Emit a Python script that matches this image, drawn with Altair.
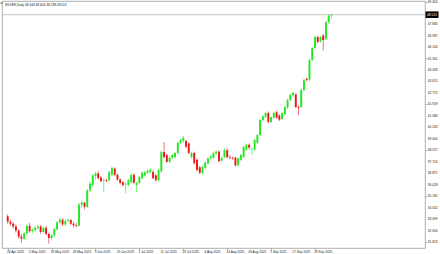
import altair as alt
import pandas as pd

# ---- data (daily SILVER candles, 24 Apr 2025 .. early Oct 2025) ----
open_ = [33.70, 33.30, 33.15, 32.95, 32.65, 32.20, 32.05, 32.45, 33.00, 32.60,
         32.70, 32.85, 32.95, 32.55, 32.85, 32.40, 32.10, 32.30, 32.75, 33.25,
         33.45, 33.10, 33.35, 33.42, 33.15, 33.05, 33.00, 34.55, 34.70, 34.40,
         35.60, 36.00, 36.65, 36.85, 36.55, 36.30, 36.35, 36.35, 36.75, 37.20,
         36.75, 36.40, 36.20, 36.05, 36.00, 36.20, 36.75, 36.00, 36.15, 36.50,
         36.70, 36.90, 36.95, 36.95, 36.70, 36.35, 37.00, 38.42, 38.20, 37.70,
         38.00, 38.05, 38.35, 39.10, 39.25, 39.23, 39.05, 38.05, 38.35, 37.85,
         37.30, 36.88, 37.25, 37.60, 37.95, 38.00, 38.30, 38.45, 37.80, 38.05,
         38.55, 38.05, 38.00, 38.00, 37.45, 37.85, 38.05, 38.60, 38.95, 38.62,
         38.60, 39.10, 39.67, 40.77, 41.00, 41.29, 40.63, 40.95, 41.35, 41.10,
         40.85, 41.20, 41.70, 42.24, 42.60, 42.65, 41.75, 41.73, 42.98, 43.80,
         43.75, 45.18, 46.07, 46.87, 46.55, 46.98, 46.75, 47.97, 48.444]
high = [33.85, 33.45, 33.25, 33.10, 32.75, 32.40, 32.55, 33.15, 33.20, 32.85,
        33.00, 33.10, 33.05, 32.95, 33.00, 32.50, 32.40, 32.85, 33.35, 33.60,
        33.55, 33.50, 33.55, 33.50, 33.30, 33.20, 34.70, 34.85, 34.75, 35.75,
        36.25, 36.80, 36.95, 37.00, 36.65, 36.50, 36.45, 37.05, 37.35, 37.30,
        36.85, 36.50, 36.30, 36.20, 36.45, 36.85, 36.85, 36.25, 36.70, 37.00,
        37.05, 37.15, 37.20, 37.10, 36.80, 37.20, 38.55, 39.15, 38.30, 38.10,
        38.30, 38.45, 39.20, 39.40, 39.60, 39.35, 39.15, 38.45, 38.45, 37.95,
        37.40, 37.45, 37.75, 38.05, 38.20, 38.45, 38.55, 38.55, 38.10, 38.70,
        38.70, 38.20, 38.10, 38.10, 38.05, 38.30, 38.90, 39.05, 39.05, 38.75,
        39.40, 39.75, 40.85, 41.10, 41.35, 41.40, 40.75, 41.40, 41.45, 41.20,
        41.35, 41.80, 42.35, 42.70, 42.85, 42.75, 41.85, 43.10, 43.80, 43.90,
        45.30, 46.15, 46.95, 46.95, 46.95, 47.10, 48.05, 48.55, 48.604]
low = [33.15, 33.00, 32.80, 32.50, 32.05, 31.75, 31.95, 32.30, 32.50, 32.45,
       32.55, 32.70, 32.40, 32.45, 32.30, 31.70, 31.95, 32.20, 32.65, 33.15,
       33.00, 33.00, 33.25, 33.05, 32.90, 32.90, 32.95, 34.30, 34.20, 34.30,
       35.45, 35.85, 36.40, 36.40, 36.20, 35.50, 36.20, 36.25, 36.65, 36.65,
       36.30, 36.05, 35.90, 35.40, 35.90, 36.10, 36.05, 35.45, 36.05, 36.40,
       36.60, 36.80, 36.85, 36.40, 36.25, 36.25, 36.90, 37.95, 37.65, 37.60,
       37.90, 37.95, 38.25, 39.00, 39.10, 38.70, 38.25, 37.95, 37.50, 37.00,
       36.80, 36.75, 37.15, 37.50, 37.85, 37.90, 38.20, 37.70, 37.70, 37.95,
       37.95, 37.90, 37.85, 37.35, 37.35, 37.75, 37.95, 38.50, 38.60, 38.20,
       38.50, 39.00, 39.60, 40.65, 40.90, 40.55, 40.55, 40.85, 40.85, 40.70,
       40.75, 41.10, 41.60, 42.15, 42.50, 41.65, 41.14, 41.65, 42.90, 43.60,
       43.65, 45.10, 46.00, 46.40, 46.45, 45.90, 46.65, 47.85, 48.238]
close = [33.30, 33.15, 32.95, 32.65, 32.20, 32.05, 32.45, 33.00, 32.60, 32.70,
         32.85, 32.95, 32.55, 32.85, 32.40, 32.10, 32.30, 32.75, 33.25, 33.45,
         33.10, 33.35, 33.42, 33.15, 33.05, 33.00, 34.55, 34.70, 34.40, 35.60,
         36.10, 36.70, 36.85, 36.50, 36.30, 36.35, 36.30, 36.95, 37.25, 36.75,
         36.40, 36.15, 36.00, 36.10, 36.35, 36.75, 36.15, 36.15, 36.60, 36.90,
         36.95, 37.05, 37.12, 36.50, 36.35, 37.10, 38.42, 38.05, 37.70, 38.00,
         38.20, 38.35, 39.10, 39.30, 39.45, 38.80, 38.35, 38.35, 37.60, 37.10,
         36.90, 37.32, 37.65, 37.95, 38.10, 38.35, 38.45, 37.75, 38.00, 38.55,
         38.05, 38.00, 37.95, 37.45, 37.95, 38.20, 38.80, 38.95, 38.75, 38.65,
         39.30, 39.67, 40.77, 41.05, 41.29, 40.63, 41.00, 41.29, 40.95, 40.80,
         41.29, 41.73, 42.24, 42.61, 42.76, 41.73, 41.68, 42.98, 43.70, 43.72,
         45.18, 46.07, 46.87, 46.50, 46.87, 46.65, 47.97, 48.45, 48.513]

x_tick_index = [0, 8, 16, 24, 32, 40, 48, 56, 64, 72, 80, 88, 96, 104, 112]
x_tick_labels = ["24 Apr 2025", "5 May 2025", "16 May 2025", "28 May 2025", "9 Jun 2025",
                 "19 Jun 2025", "1 Jul 2025", "11 Jul 2025", "23 Jul 2025", "4 Aug 2025",
                 "14 Aug 2025", "26 Aug 2025", "5 Sep 2025", "17 Sep 2025", "29 Sep 2025"]
y_tick_values = [49.450, 47.830, 46.987, 46.144, 45.301, 44.458, 43.615, 42.772, 41.929,
                 41.086, 40.243, 39.400, 38.557, 37.714, 36.871, 36.028, 35.185, 34.342,
                 33.499, 32.656, 31.813]
symbol = "SILVER,Daily"

# ---- build ----
n = len(close)
df = pd.DataFrame({"i": list(range(n)), "open": open_, "high": high, "low": low, "close": close})
last = df.iloc[[-1]].copy()
title_txt = f"{symbol} {open_[-1]:.3f} {high[-1]:.3f} {low[-1]:.3f} {close[-1]:.3f}"
xlab_df = pd.DataFrame({"i": x_tick_index, "lbl": x_tick_labels})
ylab_df = pd.DataFrame({"v": y_tick_values, "lbl": [f"{v:.3f}" for v in y_tick_values]})

GREEN = "#22e622"
RED = "#e81818"
FONT = "Liberation Sans"
FS = 3.2
PW, PH = 423, 247

xscale = alt.Scale(domain=[-0.25, 150.28], nice=False, zero=False)
yscale = alt.Scale(domain=[31.368, 49.52], nice=False, zero=False)

xaxis = alt.Axis(values=x_tick_index, labels=False, title=None, grid=False, domain=False,
                 tickSize=2, tickColor="#888", tickWidth=0.6)
yaxis = alt.Axis(orient="right", values=y_tick_values, labels=False, title=None, grid=False,
                 domain=False, tickSize=2, tickColor="#888", tickWidth=0.6)

color = alt.condition("datum.close >= datum.open", alt.value(GREEN), alt.value(RED))
base = alt.Chart(df)

wicks = base.mark_rule(strokeWidth=0.6).encode(
    x=alt.X("i:Q", scale=xscale, axis=xaxis),
    y=alt.Y("low:Q", scale=yscale, axis=yaxis),
    y2="high:Q",
    color=color,
)
bodies = base.mark_bar(size=1.9).encode(
    x="i:Q", y="open:Q", y2="close:Q", color=color,
)
price_line = alt.Chart(last).mark_rule(color="#b0b0b0", strokeWidth=0.7).encode(
    y="close:Q", x=alt.value(0), x2=alt.value(PW),
)
box = alt.Chart(last).transform_calculate(
    top="datum.close + 0.24", bot="datum.close - 0.24"
).mark_rect(color="#000000").encode(
    y="top:Q", y2="bot:Q", x=alt.value(PW + 0.5), x2=alt.value(PW + 13.5),
)
box_txt = alt.Chart(last).transform_calculate(
    lbl="format(datum.close, '.3f')"
).mark_text(align="left", baseline="middle", color="white", fontSize=FS, font=FONT).encode(
    y="close:Q", x=alt.value(PW + 2), text="lbl:N",
)
xlabels = alt.Chart(xlab_df).mark_text(
    align="left", baseline="top", fontSize=FS, font=FONT, color="#222", dx=-0.8
).encode(x="i:Q", y=alt.value(PH + 1.6), text="lbl:N")
ylabels = alt.Chart(ylab_df).mark_text(
    align="left", baseline="middle", fontSize=FS, font=FONT, color="#222"
).encode(y="v:Q", x=alt.value(PW + 2.8), text="lbl:N")
title = alt.Chart(pd.DataFrame({"t": [title_txt]})).mark_text(
    align="left", baseline="top", fontSize=FS, font=FONT, color="#222"
).encode(x=alt.value(3), y=alt.value(1.5), text="t:N")
marker = alt.Chart(pd.DataFrame({"t": ["\u25bc"]})).mark_text(
    align="left", baseline="top", fontSize=2.5, font="DejaVu Sans", color="#333"
).encode(x=alt.value(-1.5), y=alt.value(1.5), text="t:N")

chart = alt.layer(wicks, bodies, price_line, box, box_txt, xlabels, ylabels, title, marker).properties(
    width=PW, height=PH,
    autosize=alt.AutoSizeParams(type="none"),
    padding={"left": 2, "top": 1, "right": 15, "bottom": 6},
    background="white",
).configure_view(stroke="#999999", strokeWidth=0.8)

chart.save("out.html", embed_options={"renderer": "svg", "actions": False})
